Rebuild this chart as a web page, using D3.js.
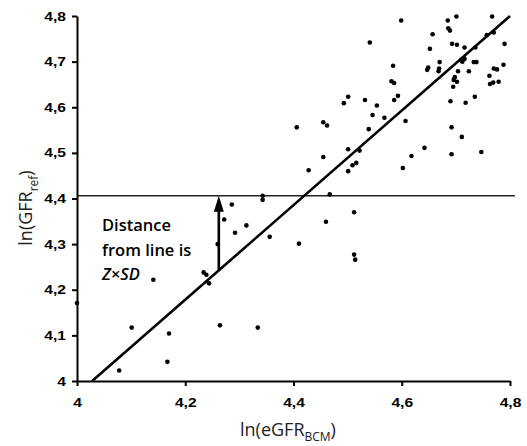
<!DOCTYPE html>
<html>
<head>
<meta charset="utf-8">
<script src="https://cdn.jsdelivr.net/npm/d3@7"></script>
<style>
  body { margin: 0; background: #fff; }
  svg { display: block; }
</style>
</head>
<body>
<div id="chart"></div>
<script>
// tick values
const xTicks = [4, 4.2, 4.4, 4.6, 4.8];
const yTicks = [4, 4.1, 4.2, 4.3, 4.4, 4.5, 4.6, 4.7, 4.8];

// scatter points: ln(eGFR_BCM) vs ln(GFR_ref)
const xVals = [4.501, 4.493, 4.406, 4.455, 4.462, 4.501, 4.455, 4.599, 4.541, 4.685,
  4.701, 4.767, 4.686, 4.689, 4.657, 4.757, 4.770, 4.790, 4.693, 4.702,
  4.652, 4.716, 4.736, 4.584, 4.670, 4.710, 4.712, 4.716, 4.733, 4.738,
  4.788, 4.649, 4.647, 4.669, 4.668, 4.704, 4.724, 4.770, 4.776, 4.762,
  4.698, 4.696, 4.702, 4.581, 4.586, 4.695, 4.763, 4.769, 4.779, 4.532,
  4.586, 4.593, 4.554, 4.690, 4.718, 4.735, 4.546, 4.568, 4.607, 4.539,
  4.692, 4.711, 4.522, 4.642, 4.618, 4.692, 4.747, 4.509, 4.516, 4.602,
  4.512, 4.512, 4.514, 4.428, 4.501, 4.286, 4.343, 4.343, 4.467, 4.272,
  4.313, 4.292, 4.356, 4.460, 4.410, 4.260, 4.234, 4.239, 4.244, 4.141,
  4.000, 4.101, 4.170, 4.078, 4.167, 4.264, 4.334];
const yVals = [4.623, 4.609, 4.556, 4.567, 4.560, 4.508, 4.491, 4.790, 4.742, 4.790,
  4.799, 4.799, 4.773, 4.768, 4.760, 4.758, 4.764, 4.739, 4.739, 4.737,
  4.728, 4.731, 4.731, 4.691, 4.699, 4.704, 4.700, 4.706, 4.699, 4.699,
  4.693, 4.687, 4.682, 4.685, 4.679, 4.679, 4.679, 4.685, 4.683, 4.669,
  4.666, 4.660, 4.656, 4.657, 4.653, 4.645, 4.651, 4.654, 4.656, 4.616,
  4.616, 4.625, 4.604, 4.613, 4.610, 4.623, 4.583, 4.577, 4.570, 4.552,
  4.556, 4.535, 4.505, 4.511, 4.493, 4.497, 4.502, 4.473, 4.478, 4.467,
  4.370, 4.277, 4.266, 4.462, 4.460, 4.387, 4.406, 4.397, 4.409, 4.354,
  4.341, 4.325, 4.316, 4.349, 4.301, 4.300, 4.238, 4.233, 4.214, 4.222,
  4.171, 4.117, 4.104, 4.023, 4.042, 4.122, 4.117];

// regression line end points, horizontal reference, arrow position
const fitX = [4.028, 4.8];
const fitY = [4.0, 4.8];
const refLevel = 4.406;
const refLineEnd = 4.809;
const arrowX = 4.262;

const annotation = ["Distance", "from line is"];

const width = 527, height = 446;
const margin = { top: 16, right: 17, bottom: 65, left: 77 };

const svg = d3.select("#chart")
  .append("svg")
  .attr("width", width)
  .attr("height", height);

const x = d3.scaleLinear()
  .domain([4, 4.8])
  .range([margin.left, width - margin.right]);

const y = d3.scaleLinear()
  .domain([4, 4.8])
  .range([height - margin.bottom, margin.top]);

const fmt = d => String(+d.toFixed(1)).replace(".", ",");
const sx = 1.25; // tick labels are drawn a bit wide

// x axis
const xAxis = svg.append("g")
  .attr("transform", `translate(0,${y(4)})`)
  .call(d3.axisBottom(x).tickValues(xTicks).tickFormat(fmt)
    .tickSize(5).tickSizeOuter(0).tickPadding(12.5));
xAxis.selectAll("path, line").attr("stroke", "#000").attr("stroke-width", 2);
xAxis.selectAll("text")
  .attr("transform", `scale(${sx},1)`)
  .style("font-family", "'Liberation Sans', Arial, sans-serif")
  .style("font-weight", "bold")
  .style("font-size", "12.5px")
  .attr("fill", "#000");

// y axis
const yAxis = svg.append("g")
  .attr("transform", `translate(${x(4)},0)`)
  .call(d3.axisLeft(y).tickValues(yTicks).tickFormat(fmt)
    .tickSize(5).tickSizeOuter(0).tickPadding(6));
yAxis.selectAll("path, line").attr("stroke", "#000").attr("stroke-width", 2);
yAxis.selectAll("text")
  .attr("x", -11 / sx)
  .attr("transform", `scale(${sx},1)`)
  .style("font-family", "'Liberation Sans', Arial, sans-serif")
  .style("font-weight", "bold")
  .style("font-size", "12.5px")
  .attr("fill", "#000");

// horizontal reference line
svg.append("line")
  .attr("x1", x(4)).attr("x2", x(refLineEnd))
  .attr("y1", y(refLevel)).attr("y2", y(refLevel))
  .attr("stroke", "#222")
  .attr("stroke-width", 1.5);

// fitted line
svg.append("line")
  .attr("x1", x(fitX[0])).attr("y1", y(fitY[0]))
  .attr("x2", x(fitX[1])).attr("y2", y(fitY[1]))
  .attr("stroke", "#000")
  .attr("stroke-width", 2.6);

// arrow from fitted line up to reference line
const slope = (fitY[1] - fitY[0]) / (fitX[1] - fitX[0]);
const arrowBase = fitY[0] + (arrowX - fitX[0]) * slope;
const ax = x(arrowX), ay0 = y(arrowBase), ay1 = y(refLevel);
svg.append("line")
  .attr("x1", ax).attr("x2", ax)
  .attr("y1", ay0).attr("y2", ay1 + 14)
  .attr("stroke", "#000")
  .attr("stroke-width", 2.6);
svg.append("path")
  .attr("d", `M${ax},${ay1} L${ax - 5},${ay1 + 16} L${ax + 5},${ay1 + 16} Z`)
  .attr("fill", "#000");

// points
svg.selectAll("circle.pt")
  .data(xVals)
  .enter()
  .append("circle")
  .attr("class", "pt")
  .attr("cx", d => x(d))
  .attr("cy", (d, i) => y(yVals[i]))
  .attr("r", 2.3)
  .attr("fill", "#000");

// annotation text
const ann = svg.append("text")
  .style("font-family", "'Open Sans', sans-serif")
  .style("font-weight", 600)
  .style("font-size", "16.5px")
  .attr("fill", "#000");
ann.selectAll("tspan.l")
  .data(annotation)
  .enter()
  .append("tspan")
  .attr("class", "l")
  .attr("x", 102)
  .attr("y", (d, i) => 231 + i * 25)
  .text(d => d);
ann.append("tspan")
  .attr("x", 102).attr("y", 280)
  .style("font-style", "italic")
  .text("Z×SD");

// axis titles
const xt = svg.append("text")
  .attr("x", 240).attr("y", 436)
  .style("font-family", "'Open Sans', sans-serif")
  .style("font-size", "18px")
  .attr("fill", "#222");
xt.append("tspan").text("ln(eGFR");
xt.append("tspan").attr("dy", 5).style("font-size", "12px").text("BCM");
xt.append("tspan").attr("dy", -5).text(")");

const yt = svg.append("text")
  .attr("transform", "translate(32,208) rotate(-90)")
  .attr("text-anchor", "middle")
  .style("font-family", "'Open Sans', sans-serif")
  .style("font-size", "18px")
  .attr("fill", "#222");
yt.append("tspan").text("ln(GFR");
yt.append("tspan").attr("dy", 6).style("font-size", "12px").text("ref");
yt.append("tspan").attr("dy", -6).text(")");
</script>
</body>
</html>
